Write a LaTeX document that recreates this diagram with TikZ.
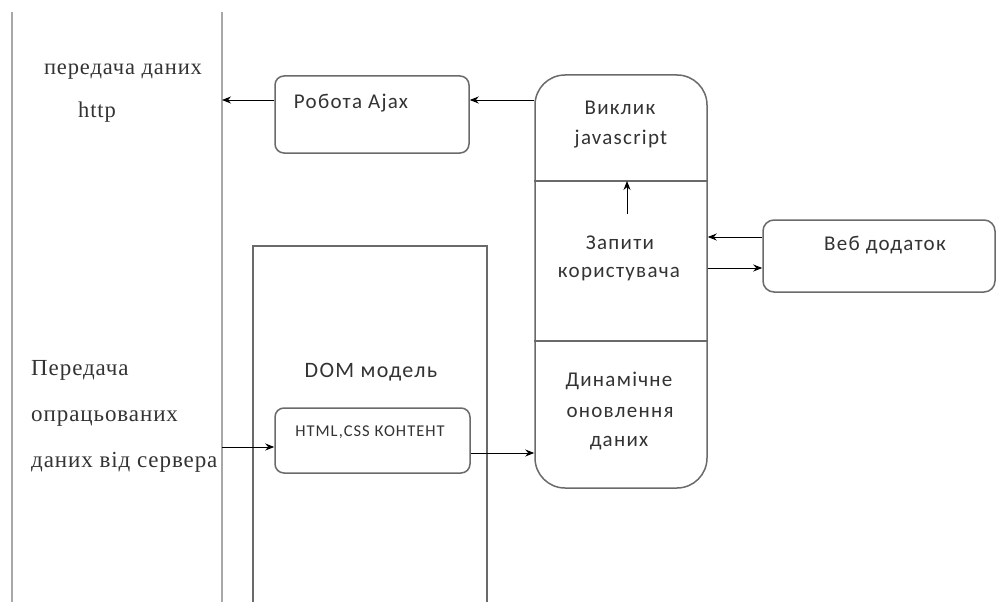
\documentclass[tikz,border=0pt]{standalone}
\usepackage{fontspec}
\setmainfont[LetterSpace=4]{Liberation Serif}
\newfontfamily\uisans[LetterSpace=6]{Carlito}
\usetikzlibrary{arrows.meta}
\definecolor{txt}{HTML}{333333}
\definecolor{brd}{HTML}{6A6A6A}
\definecolor{lanec}{HTML}{A8A8A8}
\tikzset{
  lane/.style={draw=lanec, line width=1.6pt},
  rbox/.style={draw=brd, line width=1.5pt, rounded corners=9pt, inner sep=0pt},
  sqbox/.style={draw=brd, line width=1.5pt},
  arr/.style={-{Stealth[length=9pt,width=7pt]}, line width=0.9pt, draw=black},
  sanslbl/.style={font=\uisans\fontsize{21}{24}\selectfont, text=txt, inner sep=0pt},
  seriflbl/.style={font=\fontsize{23}{26}\selectfont, text=txt, inner sep=0pt}
}
\begin{document}
\begin{tikzpicture}[x=1pt,y=-1pt]
\useasboundingbox[fill=white] (0,0) rectangle (996,602);
% lanes
\coordinate (l1t) at (12,12);
\coordinate (l1b) at (12,602);
\coordinate (l2t) at (222,12);
\coordinate (l2b) at (222,602);
\draw[lane] (l1t) -- (l1b);
\draw[lane] (l2t) -- (l2b);
% boxes
\node[rbox, minimum width=194pt, minimum height=77pt] (ajax) at (372,114.5) {};
\node[rbox, rounded corners=30pt, minimum width=172pt, minimum height=413pt] (big) at (621,281.5) {};
\node[rbox, rounded corners=11pt, minimum width=232pt, minimum height=72pt] (web) at (879,256) {};
\node[rbox, minimum width=195pt, minimum height=65pt] (html) at (372.5,440.5) {};
\coordinate (domA) at (253,602);
\coordinate (domB) at (253,246);
\coordinate (domC) at (487,246);
\coordinate (domD) at (487,602);
\draw[sqbox] (domA) -- (domB) -- (domC) -- (domD);
% dividers in big box
\coordinate (d1) at (621,181);
\coordinate (d2) at (621,341);
\draw[draw=brd, line width=1.2pt] (big.west |- d1) -- (big.east |- d1);
\draw[draw=brd, line width=1.2pt] (big.west |- d2) -- (big.east |- d2);
% labels
\node[seriflbl, font=\fontsize{22.5}{25}\selectfont] (t1) at (123,72) {передача даних};
\node[seriflbl, font=\fontsize{22.5}{25}\selectfont] (t2) at (97,112) {http};
\node[seriflbl, anchor=base west] (t3) at (31,375) {Передача};
\node[seriflbl, anchor=base west] (t4) at (31,421) {опрацьованих};
\node[seriflbl, anchor=base west] (t5) at (31,467) {даних від сервера};
\node[sanslbl] (ajaxt) at (351,103) {Робота Ajax};
\node[sanslbl] (b1) at (620,108) {Виклик};
\node[sanslbl] (b2) at (621,139) {javascript};
\node[sanslbl] (b3) at (620,243) {Запити};
\node[sanslbl] (b4) at (619,274) {користувача};
\node[sanslbl] (b5) at (619,381) {Динамічне};
\node[sanslbl] (b6) at (620,412) {оновлення};
\node[sanslbl] (b7) at (619,443) {даних};
\node[sanslbl] (webt) at (885,245) {Веб додаток};
\node[sanslbl, font=\uisans\fontsize{22}{25}\selectfont] (domt) at (371,372) {DOM модель};
\node[sanslbl, font=\uisans\fontsize{16.5}{19}\selectfont] (htmlt) at (370,432) {HTML,CSS КОНТЕНТ};
% arrows
\coordinate (yA) at (0,100);
\coordinate (yW1) at (0,237);
\coordinate (yW2) at (0,268);
\coordinate (yH1) at (0,447);
\coordinate (yH2) at (0,453);
\coordinate (upS) at (627,214);
\draw[arr] (ajax.west |- yA) -- (l2t |- yA);
\draw[arr] (big.west |- yA) -- (ajax.east |- yA);
\draw[arr] (upS) -- (upS |- d1);
\draw[arr] (web.west |- yW1) -- (big.east |- yW1);
\draw[arr] (big.east |- yW2) -- (web.west |- yW2);
\draw[arr] (l2t |- yH1) -- (html.west |- yH1);
\draw[arr] (html.east |- yH2) -- (big.west |- yH2);
\end{tikzpicture}
\end{document}
